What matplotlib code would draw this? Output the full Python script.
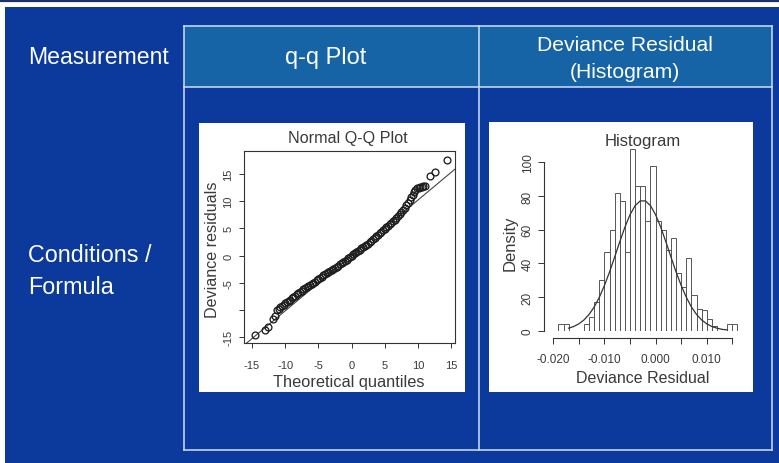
import matplotlib
matplotlib.use('Agg')
import matplotlib.pyplot as plt
from matplotlib.patches import Rectangle
from matplotlib.lines import Line2D

plt.rcParams['font.family'] = ['Liberation Sans', 'DejaVu Sans']

# ---------------- data ----------------
row_labels = ["Measurement", "Conditions /\nFormula"]
col_headers = ["q-q Plot", "Deviance Residual\n(Histogram)"]

qq_theoretical = [-14.5, -13.0, -12.6, -11.8, -11.5,
                  -11.25, -11.0, -10.75, -10.5, -10.25, -10.0, -9.75, -9.5, -9.25, -9.0,
                  -8.75, -8.5, -8.25, -8.0, -7.75, -7.5, -7.25, -7.0, -6.75, -6.5,
                  -6.25, -6.0, -5.75, -5.5, -5.25, -5.0, -4.75, -4.5, -4.25, -4.0,
                  -3.75, -3.5, -3.25, -3.0, -2.75, -2.5, -2.25, -2.0, -1.75, -1.5,
                  -1.25, -1.0, -0.75, -0.5, -0.25, 0.0, 0.25, 0.5, 0.75, 1.0,
                  1.25, 1.5, 1.75, 2.0, 2.25, 2.5, 2.75, 3.0, 3.25, 3.5,
                  3.75, 4.0, 4.25, 4.5, 4.75, 5.0, 5.25, 5.5, 5.75, 6.0,
                  6.25, 6.5, 6.75, 7.0, 7.25, 7.5, 7.75, 8.0, 8.25, 8.5,
                  8.75, 9.0, 9.2, 9.4, 9.6, 9.85, 10.1, 10.35, 10.6, 10.85,
                  11.1, 11.8, 12.6, 14.4]
qq_residuals = [-14.6, -13.7, -13.2, -11.7, -11.1,
                -10.1, -9.8, -9.55, -9.3, -9.05, -8.8, -8.6, -8.4, -8.15, -7.9,
                -7.65, -7.4, -7.15, -6.9, -6.7, -6.5, -6.25, -6.0, -5.8, -5.6,
                -5.4, -5.2, -5.0, -4.8, -4.55, -4.3, -4.1, -3.9, -3.65, -3.4,
                -3.2, -3.0, -2.8, -2.6, -2.45, -2.3, -2.1, -1.9, -1.65, -1.4,
                -1.2, -1.0, -0.75, -0.5, -0.25, 0.0, 0.2, 0.4, 0.65, 0.9,
                1.1, 1.3, 1.5, 1.7, 1.9, 2.1, 2.4, 2.7, 3.0, 3.3,
                3.55, 3.8, 4.1, 4.4, 4.65, 4.9, 5.2, 5.5, 5.75, 6.0,
                6.3, 6.6, 6.95, 7.3, 7.65, 8.0, 8.4, 8.8, 9.25, 9.7,
                10.2, 10.7, 11.2, 11.7, 12.1, 12.4, 12.5, 12.55, 12.6, 12.7,
                12.8, 14.6, 15.3, 17.6]
qq_line_x = [-16.0, 16.0]
qq_line_y = [-16.3, 16.3]
qq_xticks = [-15, -10, -5, 0, 5, 10, 15]
qq_yticks = [-15, -10, -5, 0, 5, 10, 15]
qq_yticklabels = ["-15", "", "-5", "0", "5", "10", "15"]

hist_left_edges = [-0.019, -0.018, -0.017, -0.016, -0.015, -0.014, -0.013, -0.012,
                   -0.011, -0.010, -0.009, -0.008, -0.007, -0.006, -0.005, -0.004,
                   -0.003, -0.002, -0.001, 0.000, 0.001, 0.002, 0.003, 0.004,
                   0.005, 0.006, 0.007, 0.008, 0.009, 0.010, 0.011, 0.012,
                   0.013, 0.014, 0.015]
hist_density = [4, 4, 0, 0, 0, 4, 8, 17,
                30, 47, 60, 82, 77, 47, 108, 86,
                86, 65, 98, 65, 60, 48, 55, 34,
                26, 43, 21, 13, 12, 7, 3, 0,
                0, 4, 4]
bin_width = 0.001
curve_x = [-0.017, -0.016, -0.015, -0.014, -0.013, -0.012, -0.011, -0.010, -0.009,
           -0.008, -0.007, -0.006, -0.005, -0.004, -0.003, -0.002, -0.001, 0.000,
           0.001, 0.002, 0.003, 0.004, 0.005, 0.006, 0.007, 0.008, 0.009, 0.010,
           0.011, 0.012, 0.013, 0.014]
curve_y = [1.5, 2.5, 4.1, 6.4, 9.7, 14.1, 19.9, 26.9, 34.9,
           43.8, 52.9, 61.5, 68.9, 74.3, 77.1, 77.1, 74.3, 68.9,
           61.5, 52.9, 43.8, 34.9, 26.9, 19.9, 14.1, 9.7, 6.4, 4.1,
           2.5, 1.5, 0.8, 0.45]
hist_xticks = [-0.020, -0.015, -0.010, -0.005, 0.000, 0.005, 0.010, 0.015]
hist_xticklabels = ["-0.020", "", "-0.010", "", "0.000", "", "0.010", ""]
hist_yticks = [0, 20, 40, 60, 80, 100]

# ---------------- layout helpers (pixel coords) ----------------
W, H = 779, 464
fig = plt.figure(figsize=(W / 100, H / 100), dpi=100)
fig.patch.set_facecolor('white')

def fx(x):
    return x / W

def fy(y):
    return 1 - y / H

def rect(x0, y0, x1, y1, **kw):
    fig.add_artist(Rectangle((fx(x0), fy(y1)), (x1 - x0) / W, (y1 - y0) / H,
                             transform=fig.transFigure, zorder=-20, **kw))

def line(xs, ys, **kw):
    fig.add_artist(Line2D([fx(x) for x in xs], [fy(y) for y in ys],
                          transform=fig.transFigure, zorder=-10, **kw))

def ftext(x, y, s, **kw):
    fig.text(fx(x), fy(y), s, **kw)

def ax_at(x0, y0, x1, y1):
    a = fig.add_axes([fx(x0), fy(y1), (x1 - x0) / W, (y1 - y0) / H])
    a.set_zorder(5)
    return a

BG = '#0b3a9c'
HEAD = '#1664a6'
GRID = '#cfe0f2'

# slide background
rect(5, 8, W, H, facecolor=BG, edgecolor='none')
line([0, W], [1.5, 1.5], color='#1c2f6e', lw=1.6)

# header row
rect(184, 27, 772, 88, facecolor=HEAD, edgecolor='none')
for yy in (27, 88, 451):
    line([184, 772], [yy, yy], color=GRID, lw=1.1)
for xx in (184, 479, 772):
    line([xx, xx], [27, 451], color=GRID, lw=1.1)

ftext(28, 58, row_labels[0], color='white', fontsize=16.6, ha='left', va='center')
ftext(28, 271, row_labels[1], color='white', fontsize=16.8, ha='left', va='center',
      linespacing=1.5)
ftext(326, 58, col_headers[0], color='white', fontsize=17, ha='center', va='center')
ftext(625, 59, col_headers[1], color='white', fontsize=15.2, ha='center', va='center',
      linespacing=1.5)

# white image panels
rect(199, 124, 465, 393, facecolor='white', edgecolor='none')
rect(489, 123, 753, 393, facecolor='white', edgecolor='none')

TXT = '#3a3a3a'

# ---------------- Q-Q plot ----------------
ax1 = ax_at(244, 152, 455, 344)
ax1.set_facecolor('white')
ax1.plot(qq_line_x, qq_line_y, color='#444444', lw=0.8)
ax1.plot(qq_theoretical, qq_residuals, linestyle='none', marker='o', markersize=4.9,
         markerfacecolor='none', markeredgecolor='#1e1e1e', markeredgewidth=0.95)
ax1.set_xlim(-16.21, 15.6)
ax1.set_ylim(-16.1, 19.23)
ax1.set_xticks(qq_xticks)
ax1.set_xticklabels([str(v) for v in qq_xticks])
ax1.set_yticks(qq_yticks)
ax1.set_yticklabels(qq_yticklabels, rotation=90, va='center')
ax1.tick_params(direction='out', length=3.6, width=0.7, colors='#333333',
                labelsize=8, labelcolor=TXT)
ax1.tick_params(axis='x', pad=8.5)
ax1.tick_params(axis='y', pad=4)
for s in ax1.spines.values():
    s.set_linewidth(0.8)
    s.set_color('#333333')
ftext(348, 139, "Normal Q-Q Plot", color=TXT, fontsize=11.6, ha='center', va='center')
ftext(349, 383, "Theoretical quantiles", color=TXT, fontsize=11.8, ha='center', va='center')
ftext(212, 250, "Deviance residuals", color=TXT, fontsize=11.6, ha='center', va='center',
      rotation=90)

# ---------------- Histogram ----------------
ax2 = ax_at(548, 145, 748, 331.7)
ax2.patch.set_alpha(0)
ax2.bar(hist_left_edges, hist_density, width=bin_width, align='edge',
        facecolor='white', edgecolor='#555555', linewidth=0.7)
ax2.plot(curve_x, curve_y, color='#333333', lw=0.9)
ax2.set_xlim(-0.02104, 0.01807)
ax2.set_ylim(0, 110.9)
for k in ('top', 'right'):
    ax2.spines[k].set_visible(False)
ax2.spines['bottom'].set_position(('outward', 5))
ax2.spines['left'].set_position(('outward', 2.7))
ax2.spines['bottom'].set_bounds(-0.020, 0.015)
ax2.spines['left'].set_bounds(0, 100)
for k in ('bottom', 'left'):
    ax2.spines[k].set_linewidth(0.8)
    ax2.spines[k].set_color('#333333')
ax2.set_xticks(hist_xticks)
ax2.set_xticklabels(hist_xticklabels)
ax2.set_yticks(hist_yticks)
ax2.set_yticklabels([str(v) for v in hist_yticks], rotation=90, va='center')
ax2.tick_params(direction='out', length=4.5, width=0.7, colors='#333333',
                labelsize=8.5, labelcolor=TXT)
ax2.tick_params(axis='x', pad=6.5)
ax2.tick_params(axis='y', pad=3)
ftext(643, 142, "Histogram", color=TXT, fontsize=12, ha='center', va='center')
ftext(643, 379, "Deviance Residual", color=TXT, fontsize=11.5, ha='center', va='center')
ftext(510, 243, "Density", color=TXT, fontsize=12, ha='center', va='center', rotation=90)

fig.savefig('out.png', dpi=100)
